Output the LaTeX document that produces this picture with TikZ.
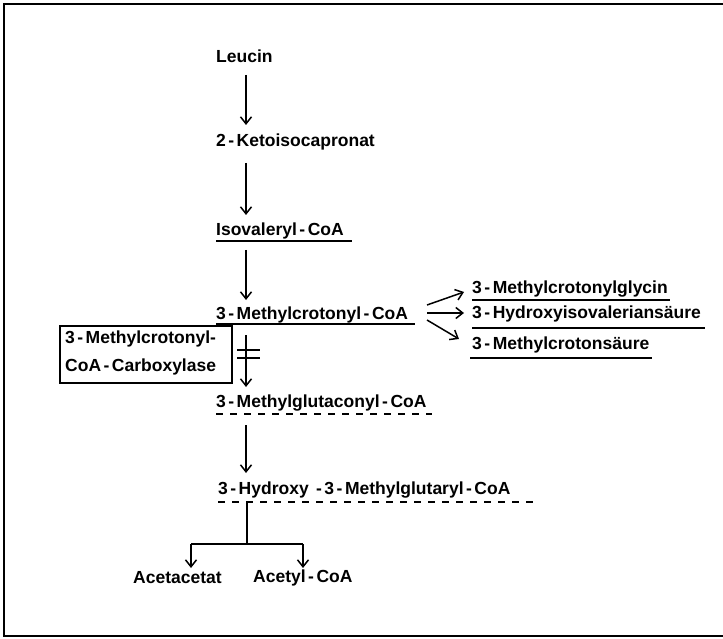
\documentclass[tikz,border=0pt]{standalone}
\usepackage{fontspec}
\setmainfont{Liberation Sans}
\usetikzlibrary{arrows.meta}
\newcommand{\hy}{\kern2.5pt-\kern2.5pt}
\begin{document}
\begin{tikzpicture}[x=1pt,y=-1pt,
  lbl/.style={anchor=west,inner sep=0pt,font=\fontsize{17.5}{20}\selectfont\bfseries},
  conn/.style={line width=1.5pt,-{Straight Barb[length=7pt,width=11pt,line width=1.5pt]}},
  plain/.style={line width=1.5pt},
  uline/.style={line width=1.6pt},
  dline/.style={line width=1.6pt,dash pattern=on 7pt off 7pt}]
\useasboundingbox (0,0) rectangle (723,639);
% outer frame (left, top, bottom)
\draw[line width=1.5pt] (723,4) -- (4,4) -- (4,636) -- (723,636);
% main chain
\node[lbl] (leu) at (216,56) {Leucin};
\node[lbl] (keto) at (216,142) {2\hy Ketoisocapronat};
\node[lbl] (iso) at (216,231) {Isovaleryl\hy CoA};
\node[lbl] (mc) at (216,315) {3\hy Methylcrotonyl\hy CoA};
\node[lbl] (mg) at (216,403) {3\hy Methylglutaconyl\hy CoA};
\node[lbl] (hmg) at (218,490) {3\hy Hydroxy \hy 3\hy Methylglutaryl\hy CoA};
\node[lbl] (aa) at (133,578) {Acetacetat};
\node[lbl] (ac) at (253,578) {Acetyl\hy CoA};
% side products
\node[lbl] (gly) at (472,289) {3\hy Methylcrotonylglycin};
\node[lbl] (hiv) at (472,314) {3\hy Hydroxyisovaleriansäure};
\node[lbl] (mcs) at (472,345) {3\hy Methylcrotonsäure};
% enzyme box
\node[draw,line width=1.5pt,minimum width=172pt,minimum height=57pt,inner sep=0pt,anchor=north west] (box) at (59,325) {};
\node[lbl] (b1) at (65,339) {3\hy Methylcrotonyl-};
\node[lbl] (b2) at (65,367) {CoA\hy Carboxylase};
% underlines
\draw[uline] (216,241) -- (352,241);
\draw[uline] (216,324) -- (415,324);
\draw[uline] (472,300) -- (670,300);
\draw[uline] (472,328) -- (705,328);
\draw[uline] (470,358) -- (652,358);
\draw[dline] (216,414) -- (432,414);
\draw[dline] (218,502) -- (538,502);
% coordinates for arrows
\coordinate (a1s) at (246,75);  \coordinate (a1e) at (246,125);
\coordinate (a2s) at (246,163); \coordinate (a2e) at (246,215);
\coordinate (a3s) at (246,250); \coordinate (a3e) at (246,300);
\coordinate (a4s) at (246,335); \coordinate (a4e) at (246,387);
\coordinate (a5s) at (246,425); \coordinate (a5e) at (246,473);
\coordinate (st) at (247,502);  \coordinate (br) at (247,544);
\coordinate (bl) at (191,544);  \coordinate (brr) at (303,544);
\coordinate (tl) at (191,568);  \coordinate (tr) at (303,568);
\draw[conn] (a1s) -- (a1e);
\draw[conn] (a2s) -- (a2e);
\draw[conn] (a3s) -- (a3e);
\draw[conn] (a4s) -- (a4e);
\draw[conn] (a5s) -- (a5e);
% block marks
\draw[plain] (237,350) -- (260,350);
\draw[plain] (237,358) -- (260,358);
% branch
\draw[plain] (st) -- (br);
\draw[plain] (bl) -- (brr);
\draw[conn] (bl) -- (tl);
\draw[conn] (brr) -- (tr);
% side arrows
\coordinate (s0) at (427,305);
\coordinate (s1) at (427,313);
\coordinate (s2) at (427,320);
\draw[conn] (s0) -- (464,292);
\draw[conn] (s1) -- (464,313);
\draw[conn] (s2) -- (459,339);
\end{tikzpicture}
\end{document}
